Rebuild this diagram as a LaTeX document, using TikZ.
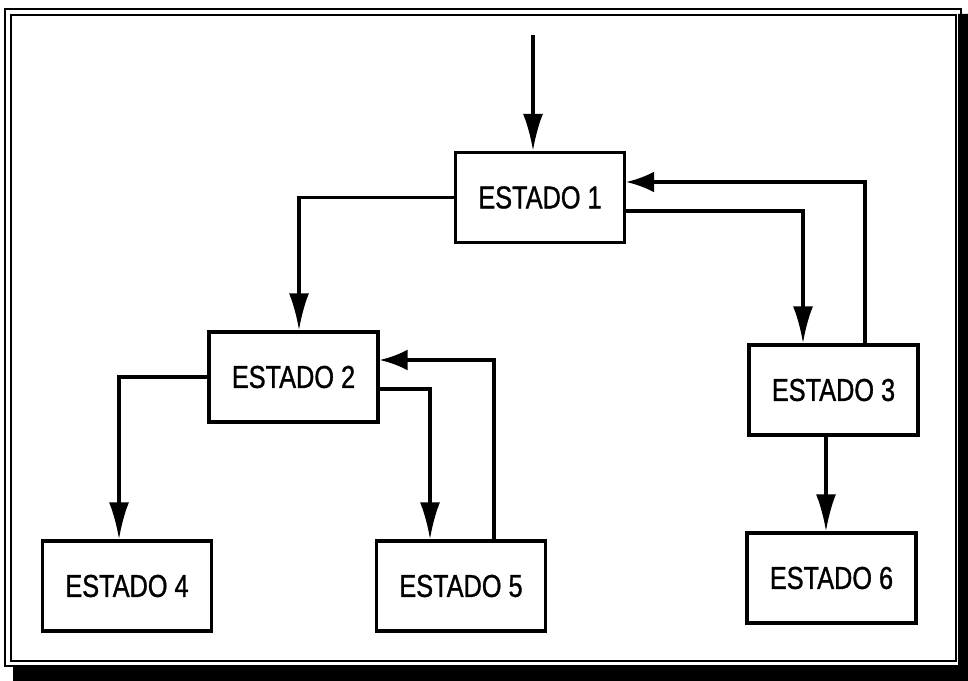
\documentclass[tikz,border=0pt]{standalone}
\usepackage{fontspec}
\setmainfont{Liberation Sans}[FakeStretch=0.8, FakeBold=1]
\usetikzlibrary{arrows.meta,calc}

\begin{document}
\begin{tikzpicture}[x=0.2mm, y=-0.2mm,
    estado/.style={rectangle, draw, line width=1.9pt, minimum width=3.38cm, minimum height=1.8cm, inner sep=0pt, font=\fontsize{18}{21}\selectfont},
    linea/.style={line width=1.9pt},
    flecha/.style={linea, -{Latex[length=7.4mm, width=4mm]}},
    flechacorta/.style={linea, -{Latex[length=5.6mm, width=4.2mm]}}]
        \useasboundingbox (0,0) rectangle (968,681);

        % Marco con sombra
        \draw[line width=1.6pt] (5,9) rectangle (961,666);
        \draw[line width=1.4pt] (11,15) rectangle (956,661);
        \fill (13,665) -- (958,665) -- (958,14) -- (968,14) -- (968,681) -- (13,681) -- cycle;

        % Estados
        \node[estado] (e1) at (540,197.5) {ESTADO 1};
        \node[estado] (e2) at (293.5,377) {ESTADO 2};
        \node[estado] (e3) at (833.5,390) {ESTADO 3};
        \node[estado] (e4) at (127,586) {ESTADO 4};
        \node[estado] (e5) at (461,586) {ESTADO 5};
        \node[estado] (e6) at (831.5,578) {ESTADO 6};

        % Transiciones hacia abajo
        \coordinate (inicio) at (533,35);
        \draw[flecha] (inicio) -- (inicio |- e1.north);
        \draw[flecha] (e1.west) -| ($(e2.north)+(5.5,0)$);
        \draw[flecha] ($(e1.east)+(0,13.5)$) -| ($(e3.north)+(-30.5,0)$);
        \draw[flecha] (e2.west) -| ($(e4.north)+(-8,0)$);
        \draw[flecha] ($(e2.east)+(0,12)$) -| ($(e5.north)+(-31,0)$);
        \draw[flecha] ($(e3.south)+(-7.5,0)$) coordinate (s3) -- (s3 |- e6.north);

        % Retornos
        \draw[flechacorta] ($(e3.north)+(31.5,0)$) |- ($(e1.east)+(0,-15.5)$);
        \draw[flechacorta] ($(e5.north)+(33,0)$) |- ($(e2.east)+(0,-17)$);
    \end{tikzpicture}
\end{document}
